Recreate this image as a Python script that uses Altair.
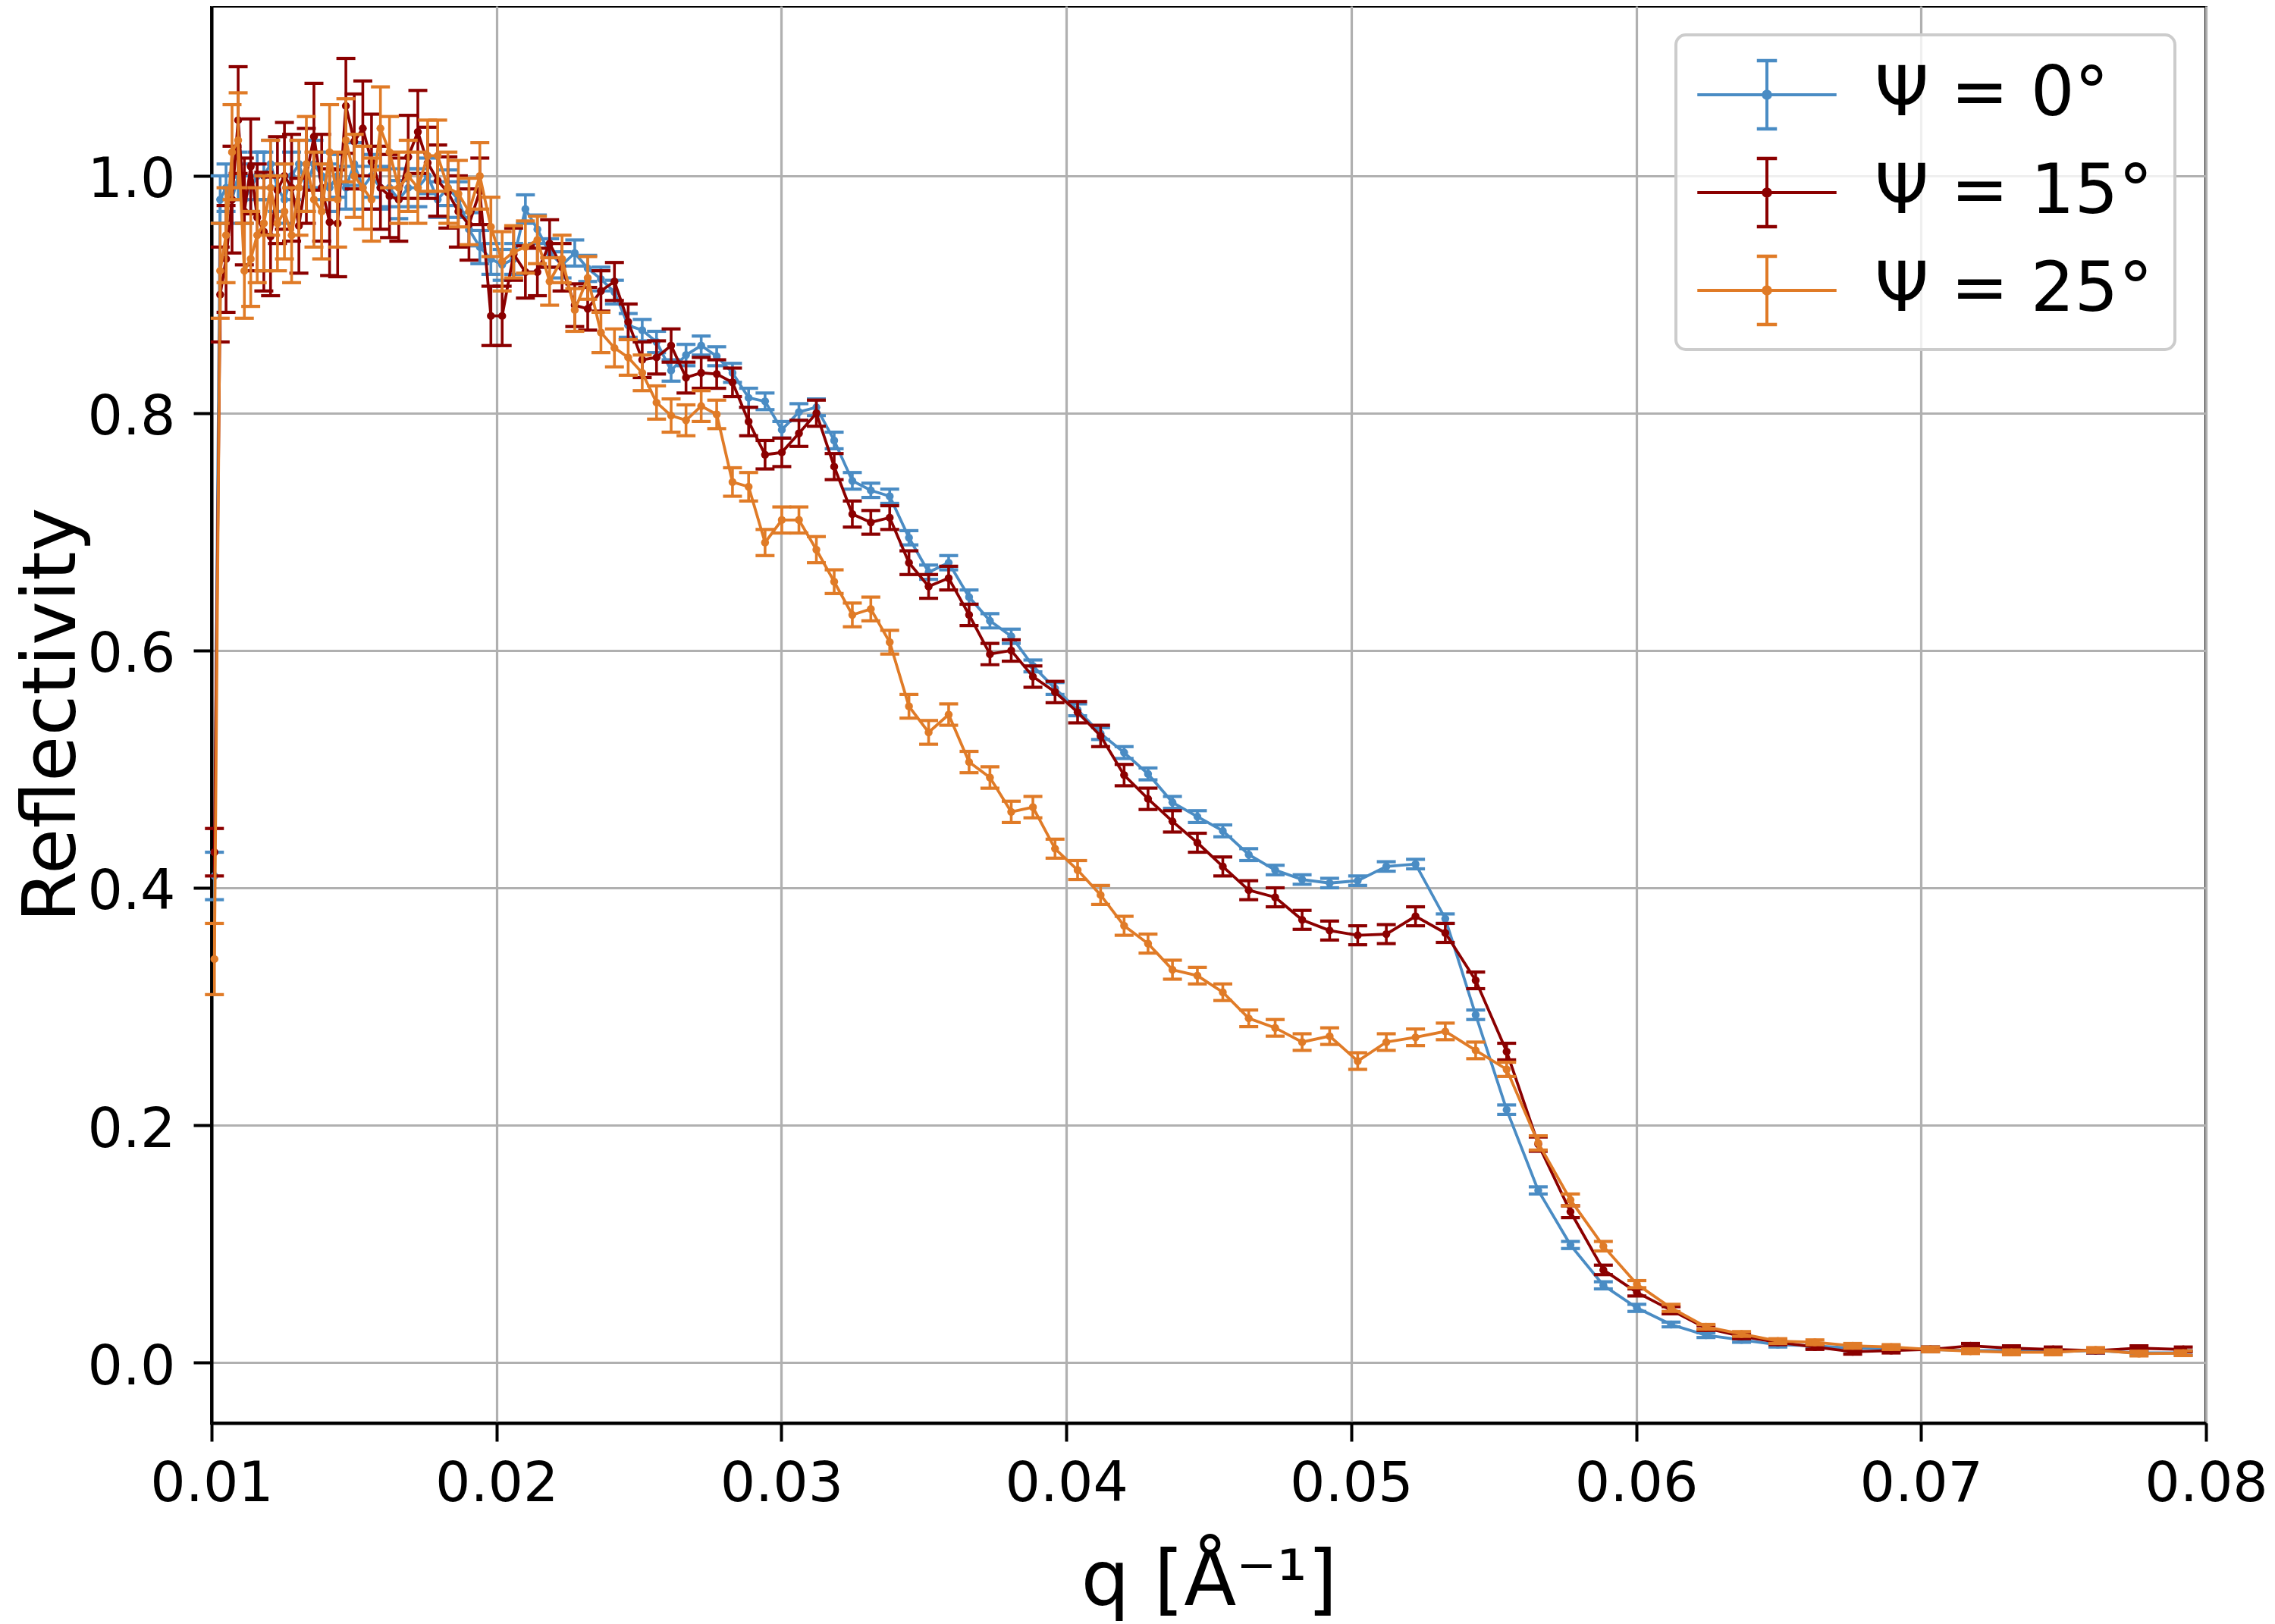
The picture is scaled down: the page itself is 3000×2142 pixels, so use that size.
import altair as alt
import pandas as pd

# q positions of the measured points (Å^-1)
Q = [
    0.010100, 0.010302, 0.010508, 0.010718, 0.010933, 0.011151, 0.011374, 0.011602, 0.011834, 0.012070,
    0.012312, 0.012558, 0.012809, 0.013065, 0.013327, 0.013593, 0.013865, 0.014142, 0.014425, 0.014714,
    0.015008, 0.015308, 0.015614, 0.015927, 0.016245, 0.016570, 0.016902, 0.017240, 0.017584, 0.017936,
    0.018295, 0.018661, 0.019034, 0.019415, 0.019803, 0.020199, 0.020603, 0.021015, 0.021435, 0.021864,
    0.022301, 0.022747, 0.023202, 0.023666, 0.024140, 0.024622, 0.025115, 0.025617, 0.026129, 0.026652,
    0.027185, 0.027729, 0.028283, 0.028849, 0.029426, 0.030014, 0.030615, 0.031227, 0.031852, 0.032489,
    0.033138, 0.033801, 0.034477, 0.035167, 0.035870, 0.036587, 0.037319, 0.038066, 0.038827, 0.039604,
    0.040396, 0.041203, 0.042028, 0.042868, 0.043725, 0.044600, 0.045492, 0.046402, 0.047330, 0.048276,
    0.049242, 0.050227, 0.051231, 0.052256, 0.053301, 0.054367, 0.055454, 0.056563, 0.057695, 0.058849,
    0.060026, 0.061226, 0.062451, 0.063700, 0.064974, 0.066273, 0.067599, 0.068951, 0.070330, 0.071736,
    0.073171, 0.074635, 0.076127, 0.077650, 0.079203,
]

# Psi = 0 deg
R_PSI0 = [
    0.41, 0.98, 0.99, 0.98, 1.00, 0.98, 0.99, 1.00, 1.00, 1.01,
    0.99, 0.98, 1.00, 1.01, 0.99, 1.01, 1.00, 0.99, 1.00, 0.99,
    1.01, 0.99, 1.00, 0.99, 0.99, 0.98, 0.99, 0.99, 1.00, 0.98,
    0.99, 0.98, 0.955, 0.94, 0.93, 0.925, 0.93, 0.972, 0.955, 0.935,
    0.925, 0.935, 0.922, 0.913, 0.902, 0.874, 0.870, 0.860, 0.836, 0.849,
    0.857, 0.848, 0.834, 0.813, 0.810, 0.786, 0.801, 0.805, 0.777, 0.743,
    0.735, 0.730, 0.695, 0.666, 0.674, 0.645, 0.625, 0.612, 0.587, 0.568,
    0.550, 0.530, 0.514, 0.496, 0.472, 0.460, 0.448, 0.428, 0.415, 0.407,
    0.404, 0.406, 0.418, 0.420, 0.374, 0.293, 0.213, 0.145, 0.099, 0.065,
    0.046, 0.032, 0.023, 0.019, 0.015, 0.014, 0.012, 0.012, 0.011, 0.010,
    0.010, 0.009, 0.010, 0.008, 0.008,
]
E_PSI0 = [
    0.02, 0.02, 0.02, 0.02, 0.02, 0.02, 0.02, 0.02, 0.02, 0.02,
    0.02, 0.02, 0.02, 0.02, 0.02, 0.02, 0.02, 0.02, 0.018, 0.018,
    0.018, 0.018, 0.018, 0.018, 0.016, 0.016, 0.016, 0.016, 0.015, 0.015,
    0.015, 0.015, 0.014, 0.014, 0.013, 0.013, 0.013, 0.012, 0.012, 0.012,
    0.011, 0.011, 0.011, 0.010, 0.010, 0.010, 0.009, 0.009, 0.009, 0.009,
    0.008, 0.008, 0.008, 0.008, 0.007, 0.007, 0.007, 0.007, 0.007, 0.007,
    0.006, 0.006, 0.006, 0.006, 0.006, 0.006, 0.006, 0.006, 0.005, 0.005,
    0.005, 0.005, 0.005, 0.005, 0.005, 0.005, 0.005, 0.005, 0.004, 0.004,
    0.004, 0.004, 0.004, 0.004, 0.004, 0.004, 0.004, 0.003, 0.003, 0.003,
    0.003, 0.002, 0.002, 0.002, 0.002, 0.002, 0.002, 0.002, 0.002, 0.002,
    0.002, 0.002, 0.002, 0.002, 0.002,
]

# Psi = 15 deg
R_PSI15 = [
    0.43, 0.90, 0.93, 0.98, 1.047, 0.97, 1.008, 0.965, 0.953, 0.949,
    0.988, 1.00, 0.99, 0.958, 1.00, 1.033, 0.99, 0.961, 0.960, 1.059,
    1.029, 1.040, 1.012, 0.990, 0.983, 0.980, 1.016, 1.037, 1.011, 0.996,
    0.986, 0.970, 0.959, 0.987, 0.882, 0.882, 0.934, 0.919, 0.919, 0.943,
    0.923, 0.891, 0.888, 0.903, 0.911, 0.877, 0.845, 0.847, 0.857, 0.830,
    0.834, 0.833, 0.826, 0.793, 0.765, 0.767, 0.783, 0.800, 0.755, 0.715,
    0.708, 0.712, 0.674, 0.654, 0.661, 0.630, 0.597, 0.600, 0.578, 0.565,
    0.548, 0.528, 0.495, 0.475, 0.456, 0.438, 0.418, 0.398, 0.392, 0.373,
    0.364, 0.360, 0.361, 0.376, 0.362, 0.322, 0.262, 0.184, 0.127, 0.078,
    0.059, 0.044, 0.029, 0.022, 0.017, 0.013, 0.009, 0.010, 0.011, 0.014,
    0.012, 0.011, 0.010, 0.012, 0.011,
]
E_PSI15 = [
    0.02, 0.04, 0.045, 0.045, 0.045, 0.045, 0.04, 0.045, 0.05, 0.05,
    0.045, 0.045, 0.045, 0.04, 0.04, 0.045, 0.045, 0.045, 0.045, 0.04,
    0.04, 0.04, 0.04, 0.035, 0.035, 0.035, 0.035, 0.035, 0.03, 0.03,
    0.03, 0.03, 0.03, 0.028, 0.025, 0.025, 0.022, 0.022, 0.02, 0.02,
    0.02, 0.018, 0.018, 0.017, 0.016, 0.015, 0.015, 0.014, 0.014, 0.013,
    0.013, 0.012, 0.012, 0.012, 0.012, 0.012, 0.011, 0.011, 0.011, 0.011,
    0.010, 0.010, 0.010, 0.010, 0.010, 0.009, 0.009, 0.009, 0.009, 0.009,
    0.009, 0.009, 0.009, 0.009, 0.009, 0.008, 0.008, 0.008, 0.008, 0.008,
    0.008, 0.008, 0.008, 0.008, 0.008, 0.007, 0.007, 0.006, 0.005, 0.004,
    0.003, 0.003, 0.002, 0.002, 0.002, 0.002, 0.002, 0.002, 0.002, 0.002,
    0.002, 0.002, 0.002, 0.002, 0.002,
]

# Psi = 25 deg
R_PSI25 = [
    0.34, 0.92, 0.95, 1.02, 1.03, 0.92, 0.93, 0.95, 0.96, 0.99,
    0.96, 0.97, 0.95, 0.99, 1.01, 0.98, 0.97, 1.02, 0.98, 1.03,
    1.00, 0.99, 0.98, 1.04, 1.02, 0.99, 1.00, 0.99, 1.017, 1.017,
    0.99, 0.985, 0.97, 1.00, 0.957, 0.928, 0.936, 0.940, 0.946, 0.911,
    0.930, 0.887, 0.914, 0.868, 0.855, 0.847, 0.834, 0.809, 0.798, 0.794,
    0.806, 0.799, 0.742, 0.738, 0.691, 0.710, 0.710, 0.685, 0.658, 0.630,
    0.635, 0.607, 0.553, 0.531, 0.546, 0.506, 0.493, 0.464, 0.468, 0.433,
    0.415, 0.394, 0.368, 0.353, 0.331, 0.326, 0.312, 0.290, 0.282, 0.270,
    0.275, 0.254, 0.270, 0.274, 0.279, 0.263, 0.247, 0.185, 0.137, 0.098,
    0.066, 0.046, 0.030, 0.024, 0.018, 0.017, 0.014, 0.013, 0.011, 0.0095,
    0.0085, 0.0085, 0.0105, 0.0075, 0.0078,
]
E_PSI25 = [
    0.03, 0.04, 0.04, 0.04, 0.04, 0.04, 0.04, 0.04, 0.04, 0.04,
    0.04, 0.04, 0.04, 0.04, 0.04, 0.04, 0.04, 0.04, 0.04, 0.035,
    0.035, 0.035, 0.035, 0.035, 0.03, 0.03, 0.03, 0.03, 0.03, 0.03,
    0.03, 0.028, 0.028, 0.028, 0.025, 0.025, 0.022, 0.022, 0.02, 0.02,
    0.02, 0.018, 0.018, 0.017, 0.016, 0.015, 0.015, 0.014, 0.014, 0.013,
    0.013, 0.012, 0.012, 0.012, 0.011, 0.011, 0.011, 0.011, 0.010, 0.010,
    0.010, 0.010, 0.010, 0.010, 0.009, 0.009, 0.009, 0.009, 0.009, 0.008,
    0.008, 0.008, 0.008, 0.008, 0.008, 0.007, 0.007, 0.007, 0.007, 0.007,
    0.007, 0.007, 0.007, 0.007, 0.007, 0.007, 0.006, 0.006, 0.005, 0.004,
    0.003, 0.003, 0.002, 0.002, 0.002, 0.002, 0.002, 0.002, 0.002, 0.002,
    0.002, 0.002, 0.002, 0.002, 0.002,
]

LABELS = ["Ψ = 0°", "Ψ = 15°", "Ψ = 25°"]
COLORS = ["#4a8cc4", "#8b0000", "#e07b27"]
X_TICKS = [0.01, 0.02, 0.03, 0.04, 0.05, 0.06, 0.07, 0.08]
Y_TICKS = [0.0, 0.2, 0.4, 0.6, 0.8, 1.0]

rows = []
for lab, ys, es in zip(LABELS, [R_PSI0, R_PSI15, R_PSI25], [E_PSI0, E_PSI15, E_PSI25]):
    for q, y, e in zip(Q, ys, es):
        rows.append({"q": q, "R": y, "lo": y - e, "hi": y + e, "series": lab})
df = pd.DataFrame(rows)

FONT = "DejaVu Sans"
xscale = alt.Scale(domain=[0.01, 0.08], nice=False, zero=False)
yscale = alt.Scale(domain=[-0.0511, 1.1431], nice=False, zero=False)
cscale = alt.Scale(domain=LABELS, range=COLORS)

xaxis = alt.Axis(title="q [Å⁻¹]", values=X_TICKS, format=".2f", labelPadding=20,
                 titleY=209, titleBaseline="middle", titleAlign="center", titleFontSize=101)
yaxis = alt.Axis(title="Reflectivity", values=Y_TICKS, format=".1f", labelPadding=24,
                 labelOffset=6, titleX=-210, titleBaseline="middle", titleAlign="center",
                 titleAngle=270, titleFontSize=98)

# errorbar glyph for the legend: horizontal line, vertical bar, two caps, centre dot
LEGEND_SYMBOL = ("M-1.82,-0.025H1.82V0.025H-1.82Z"
                 "M-0.025,-0.9H0.025V0.9H-0.025Z"
                 "M-0.25,-0.93H0.25V-0.87H-0.25Z"
                 "M-0.25,0.87H0.25V0.93H-0.25Z"
                 "M0.12,0A0.12,0.12,0,1,1,-0.12,0A0.12,0.12,0,1,1,0.12,0Z")

legend = alt.Legend(orient="none", legendX=1931, legendY=38,
                    symbolType=LEGEND_SYMBOL, symbolSize=10000, symbolStrokeWidth=1.5,
                    symbolOpacity=1, symbolOffset=41, labelOffset=91, padding=28,
                    rowPadding=28, cornerRadius=13, fillColor="rgba(255,255,255,0.8)",
                    strokeColor="#cccccc", labelFont=FONT, labelFontSize=91,
                    labelColor="black", labelLimit=2000)

X = alt.X("q:Q", scale=xscale, axis=xaxis)
col = alt.Color("series:N", scale=cscale, legend=legend, title=None)
pfill = alt.Fill("series:N", scale=cscale, legend=legend, title=None)

layers = []
for lab in LABELS:
    base = alt.Chart(df).transform_filter(alt.FieldEqualPredicate(field="series", equal=lab))
    line = base.mark_line(strokeWidth=3.8).encode(
        x=X, y=alt.Y("R:Q", scale=yscale, axis=yaxis), color=col)
    bars = base.mark_rule(strokeWidth=3.6).encode(
        x=X, y=alt.Y("lo:Q", scale=yscale, axis=yaxis), y2="hi:Q", color=col)
    cap_lo = base.mark_tick(orient="horizontal", size=25, thickness=4.2, opacity=1).encode(
        x=X, y=alt.Y("lo:Q", scale=yscale, axis=yaxis), color=col)
    cap_hi = base.mark_tick(orient="horizontal", size=25, thickness=4.2, opacity=1).encode(
        x=X, y=alt.Y("hi:Q", scale=yscale, axis=yaxis), color=col)
    pts = base.mark_point(filled=True, size=110, opacity=1, strokeWidth=0).encode(
        x=X, y=alt.Y("R:Q", scale=yscale, axis=yaxis), fill=pfill)
    layers += [line, bars, cap_lo, cap_hi, pts]

chart = alt.layer(*layers).properties(
    width=2630, height=1869,
    padding={"left": 271, "top": 0, "right": 83, "bottom": 265},
    autosize=alt.AutoSizeParams(type="none"),
    background="white",
).configure_view(
    stroke="black", strokeWidth=4
).configure_axis(
    domainColor="black", domainWidth=4, tickColor="black", tickWidth=4, tickSize=24,
    gridColor="#b0b0b0", gridWidth=3.2, gridOpacity=1,
    labelFont=FONT, labelFontSize=73, labelColor="black", labelFlush=False,
    labelOverlap=False, labelLimit=1000,
    titleFont=FONT, titleFontWeight="normal", titleColor="black",
).configure_legend(strokeWidth=4)

chart.save("out.html", embed_options={"renderer": "svg", "actions": False})
